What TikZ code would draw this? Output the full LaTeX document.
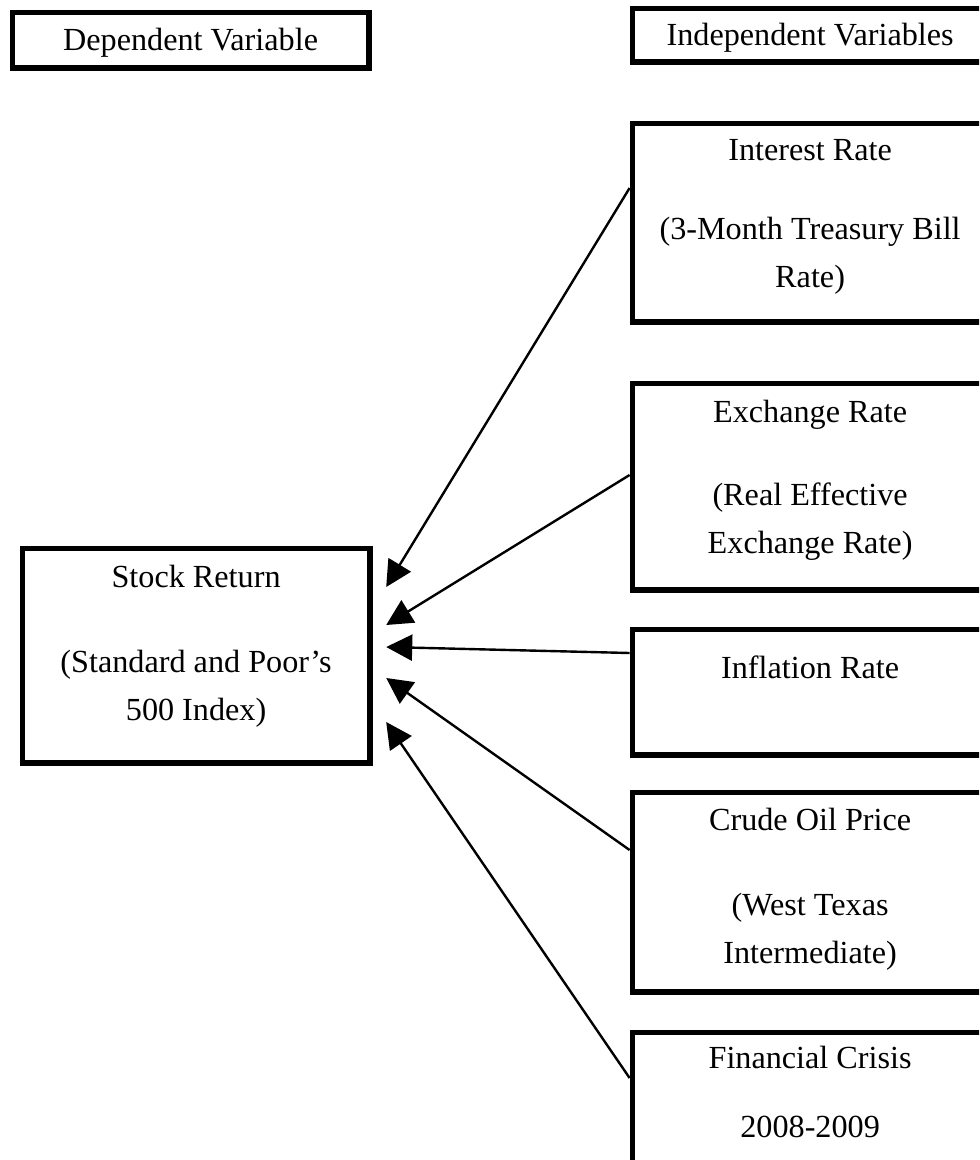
\documentclass[tikz,border=0pt]{standalone}
\usepackage{fontspec}
\setmainfont{Liberation Serif}
\usetikzlibrary{positioning, arrows.meta}

\tikzset{
        box/.style={draw, line width=2.6pt, inner sep=0pt, anchor=north west, minimum width=177.9pt},
        lbl/.style={align=center, inner sep=0pt, font=\fontsize{16.1pt}{24pt}\selectfont},
        link/.style={line width=1.2pt, -{Triangle[length=13pt, width=13pt]}}
}

\begin{document}
\begin{tikzpicture}[x=0.5pt, y=-0.5pt]
        \useasboundingbox (0,0) rectangle (979,1160);
        \clip (0,0) rectangle (979,1160);

        \node[box, minimum width=178.4pt, minimum height=27.9pt] (dv) at (9.6,9.6) {};
        \node[lbl, below=3.4pt of dv.north] (dvtext) {\strut Dependent Variable};

        \node[box, minimum height=26.9pt] (iv) at (629.6,5.6) {};
        \node[lbl, below=2.9pt of iv.north] (ivtext) {\strut Independent Variables};

        \node[box, minimum width=173.9pt, minimum height=107.4pt] (sr) at (19.6,545.6) {};
        \node[lbl, below=3.9pt of sr.north] (srtext) {\strut Stock Return\\[18.5pt](Standard and Poor’s\\500 Index)};

        \node[box, minimum height=99.4pt] (ir) at (629.6,120.6) {};
        \node[lbl, below=2.9pt of ir.north] (irtext) {\strut Interest Rate\\[15.5pt](3-Month Treasury Bill\\Rate)};

        \node[box, minimum height=103.4pt] (er) at (629.6,380.6) {};
        \node[lbl, below=3.9pt of er.north] (ertext) {\strut Exchange Rate\\[17.5pt](Real Effective\\Exchange Rate)};

        \node[box, minimum height=62.9pt] (inf) at (629.6,626.6) {};
        \node[lbl, below=8.9pt of inf.north] (inftext) {\strut Inflation Rate};

        \node[box, minimum height=99.9pt] (co) at (629.6,789.6) {};
        \node[lbl, below=3.4pt of co.north] (cotext) {\strut Crude Oil Price\\[18.5pt](West Texas\\Intermediate)};

        \node[box, minimum height=110pt] (fc) at (629.6,1029.6) {};
        \node[lbl, below=2.4pt of fc.north] (fctext) {\strut Financial Crisis\\[10.5pt]2008-2009};

        \draw[link] ([yshift=-33.7pt]ir.north west) -- ([xshift=6.8pt, yshift=-20.7pt]sr.north east);
        \draw[link] ([yshift=-47.2pt]er.north west) -- ([xshift=6.8pt, yshift=-39.7pt]sr.north east);
        \draw[link] ([yshift=-13.2pt]inf.north west) -- ([xshift=6.8pt, yshift=-50.7pt]sr.north east);
        \draw[link] ([yshift=-30.2pt]co.north west) -- ([xshift=6.8pt, yshift=-66.2pt]sr.north east);
        \draw[link] ([yshift=-24.2pt]fc.north west) -- ([xshift=6.8pt, yshift=-88.2pt]sr.north east);
\end{tikzpicture}
\end{document}
